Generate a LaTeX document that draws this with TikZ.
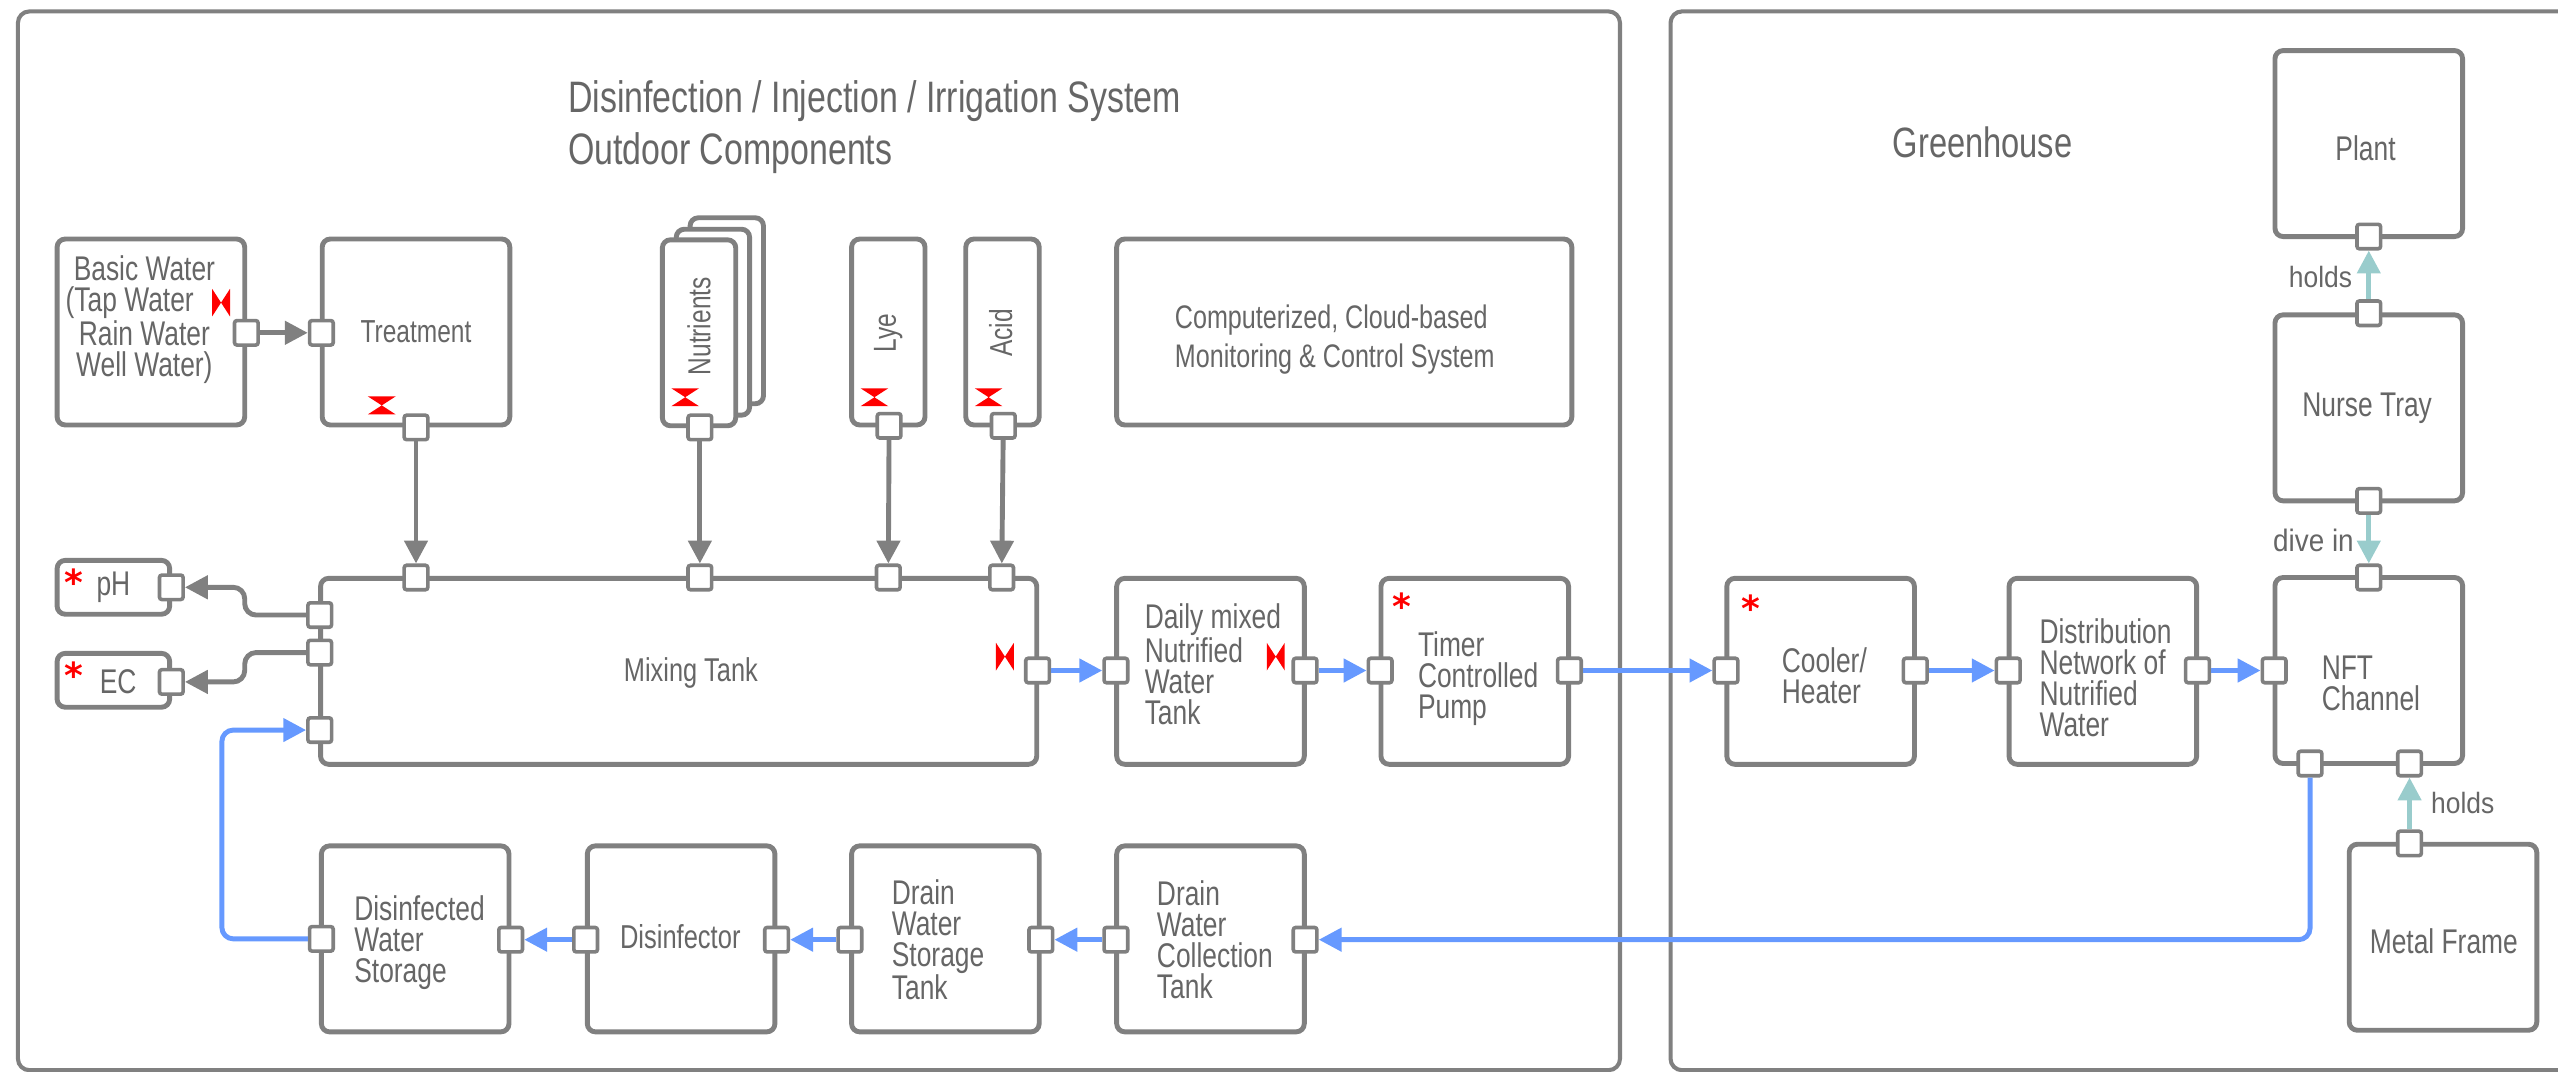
\documentclass[tikz,border=0pt]{standalone}
\usepackage{fontspec}
\setmainfont[FakeStretch=0.77]{Liberation Sans}
\newfontfamily\notefont[FakeStretch=0.9]{Liberation Sans}
\newfontfamily\starfont{DejaVu Sans}
\usetikzlibrary{arrows.meta}
\definecolor{linegray}{HTML}{808080}
\definecolor{textgray}{HTML}{666666}
\definecolor{flowblue}{HTML}{6699FF}
\definecolor{holdteal}{HTML}{99CCCC}
\tikzstyle{frame}=[draw=linegray,line width=2.5pt,rounded corners=7pt]
\tikzstyle{box}=[fill=white,draw=linegray,line width=3pt,rounded corners=5pt,inner sep=0pt,
	minimum width=115pt,minimum height=114pt,text=textgray,align=center,
	font=\fontsize{21}{19}\selectfont]
\tikzstyle{port}=[fill=white,draw=linegray,line width=2.2pt,rounded corners=1.5pt,inner sep=0pt,
	minimum width=14.5pt,minimum height=15pt]
\tikzstyle{lbl}=[text=textgray,inner sep=0pt,align=left,font=\fontsize{21}{19}\selectfont]
\tikzstyle{title}=[text=textgray,inner sep=0pt,align=left,font=\fontsize{27}{31.5}\selectfont]
\tikzstyle{note}=[text=textgray,inner sep=0pt,font=\notefont\fontsize{18}{18}\selectfont]
\tikzstyle{star}=[text=red,inner sep=0pt,anchor=base,font=\starfont\bfseries\fontsize{22}{22}\selectfont]
\tikzstyle{pipe}=[line width=3pt,rounded corners=7pt]
\tikzstyle{gray flow}=[pipe,draw=linegray,-{Triangle[length=14pt,width=14pt]}]
\tikzstyle{blue flow}=[pipe,draw=flowblue,-{Triangle[length=14pt,width=14pt]}]
\tikzstyle{teal flow}=[pipe,draw=holdteal,-{Triangle[length=14pt,width=14pt]}]
\begin{document}
\begin{tikzpicture}[x=1pt,y=-1pt]
\useasboundingbox (0,0) rectangle (1568,656.5);
% frames
\draw[frame] (11,7) rectangle (993,656);
\draw[frame] (1024,7) rectangle (1590,656);
\node[title,anchor=west] (outdoor) at (348,78) {Disinfection / Injection / Irrigation System\\Outdoor Components};
\node[title,anchor=west,font=\fontsize{26}{31.5}\selectfont] (greenhouse) at (1160,87) {Greenhouse};
% outdoor boxes
\node[box] (basic) at (92.5,203.5) {};
\node[box] (treatment) at (255,203.5) {};
\node[box,minimum width=45pt,minimum height=114pt] (nutrientsc) at (445.5,190.5) {};
\node[box,minimum width=45pt,minimum height=114pt] (nutrientsb) at (437,197.5) {};
\node[box,minimum width=45pt,minimum height=114pt] (nutrients) at (428.5,204) {};
\node[box,minimum width=45pt,minimum height=114pt] (lye) at (544.5,203.5) {};
\node[box,minimum width=45pt,minimum height=114pt] (acid) at (614.5,203.5) {};
\node[box,minimum width=279pt,minimum height=114pt] (monitoring) at (824,203.5) {};
\node[box,minimum width=69pt,minimum height=33pt] (ph) at (69.5,360) {};
\node[box,minimum width=69pt,minimum height=33pt] (ec) at (69.5,417) {};
\node[box,minimum width=439pt] (mixing) at (416,411.5) {};
\node[box] (daily) at (742,411.5) {};
\node[box] (timer) at (904,411.5) {};
\node[box] (disinfected) at (254.5,575.5) {};
\node[box] (disinfector) at (417.5,575.5) {};
\node[box] (storage) at (579.5,575.5) {};
\node[box] (collection) at (742,575.5) {};
% greenhouse boxes
\node[box] (cooler) at (1116,411.5) {};
\node[box] (network) at (1289,411.5) {};
\node[box] (channel) at (1452,411) {};
\node[box] (tray) at (1452,250) {};
\node[box] (plant) at (1452,88) {};
\node[box] (metal) at (1497.5,574.5) {};
% texts
\node[lbl,align=center] (basictext) at (88.5,196) {Basic Water\\(Tap Water\hspace{18pt}\null\\Rain Water\\Well Water)};
\node[lbl,font=\fontsize{19.5}{19}\selectfont] (treatmenttext) at (255,203.5) {Treatment};
\node[lbl,rotate=90,font=\fontsize{19.5}{19}\selectfont] (nutrientstext) at (428.5,200) {Nutrients};
\node[lbl,rotate=90,font=\fontsize{19.5}{19}\selectfont] (lyetext) at (544.5,204) {Lye};
\node[lbl,rotate=90,font=\fontsize{19.5}{19}\selectfont] (acidtext) at (613.5,204) {Acid};
\node[lbl,anchor=west,font=\fontsize{20}{24}\selectfont] (monitoringtext) at (720,208) {Computerized, Cloud-based\\Monitoring \& Control System};
\node[lbl,anchor=west] (phtext) at (59,360) {pH};
\node[lbl,anchor=west] (ectext) at (61,418) {EC};
\node[lbl,font=\fontsize{20.2}{19}\selectfont] (mixingtext) at (423.5,412.5) {Mixing Tank};
\node[lbl,anchor=west] (dailytext) at (701.5,407) {Daily mixed\\Nutrified\\Water\\Tank};
\node[lbl,anchor=west] (timertext) at (869,416) {Timer\\Controlled\\Pump};
\node[lbl,anchor=west] (disinfectedtext) at (217,578) {Disinfected\\Water\\Storage};
\node[lbl,font=\fontsize{20.3}{19}\selectfont] (disinfectortext) at (417,574) {Disinfector};
\node[lbl,anchor=west] (storagetext) at (546.5,576) {Drain\\Water\\Storage\\Tank};
\node[lbl,anchor=west] (collectiontext) at (709,576) {Drain\\Water\\Collection\\Tank};
\node[lbl,anchor=west] (coolertext) at (1092,414) {Cooler/\\Heater};
\node[lbl,anchor=west] (networktext) at (1250,415.5) {Distribution\\Network of\\Nutrified\\Water};
\node[lbl,anchor=west] (channeltext) at (1423,419) {NFT\\Channel};
\node[lbl] (traytext) at (1451,250) {Nurse Tray};
\node[lbl] (planttext) at (1450,91) {Plant};
\node[lbl] (metaltext) at (1498,577) {Metal Frame};
% ports
\node[port] (basicout) at (151,204) {};
\node[port] (treatmentin) at (197,204) {};
\node[port] (treatmentout) at (255,262) {};
\node[port] (nutrientsout) at (429,262) {};
\node[port] (lyeout) at (545,261) {};
\node[port] (acidout) at (615,261) {};
\node[port] (phin) at (105,360) {};
\node[port] (ecin) at (105,418) {};
\node[port] (mixa) at (255,354) {};
\node[port] (mixb) at (429,354) {};
\node[port] (mixc) at (544.5,354) {};
\node[port] (mixd) at (614,354) {};
\node[port] (mixph) at (196,377) {};
\node[port] (mixec) at (196,400) {};
\node[port] (mixback) at (196,447.5) {};
\node[port] (mixout) at (636,411) {};
\node[port] (dailyin) at (684,411) {};
\node[port] (dailyout) at (800,411) {};
\node[port] (timerin) at (846,411) {};
\node[port] (timerout) at (962,411) {};
\node[port] (coolerin) at (1058,411) {};
\node[port] (coolerout) at (1174,411) {};
\node[port] (networkin) at (1231,411) {};
\node[port] (networkout) at (1347,411) {};
\node[port] (channelin) at (1394,411) {};
\node[port] (channeltop) at (1452,354) {};
\node[port] (channeldrain) at (1416,468) {};
\node[port] (channelframe) at (1477,468) {};
\node[port] (metalout) at (1477,517) {};
\node[port] (trayout) at (1452,307) {};
\node[port] (traytop) at (1452,192) {};
\node[port] (plantin) at (1452,145) {};
\node[port] (collectionin) at (800,576) {};
\node[port] (collectionout) at (684,576) {};
\node[port] (storagein) at (638,576) {};
\node[port] (storageout) at (521,576) {};
\node[port] (disinfectorin) at (476,576) {};
\node[port] (disinfectorout) at (359,576) {};
\node[port] (disinfectedin) at (313,576) {};
\node[port] (disinfectedout) at (197,575.5) {};
% connectors
\draw[gray flow] (basicout) -- (treatmentin);
\draw[gray flow] (treatmentout) -- (mixa);
\draw[gray flow] (nutrientsout) -- (mixb);
\draw[gray flow] (lyeout) -- (mixc);
\draw[gray flow] (acidout) -- (mixd);
\draw[gray flow] (mixph) -- ++(-46,0) |- (phin);
\draw[gray flow] (mixec) -- ++(-46,0) |- (ecin);
\draw[blue flow] (mixout) -- (dailyin);
\draw[blue flow] (dailyout) -- (timerin);
\draw[blue flow] (timerout) -- (coolerin);
\draw[blue flow] (coolerout) -- (networkin);
\draw[blue flow] (networkout) -- (channelin);
\draw[blue flow] (channeldrain) |- (collectionin);
\draw[blue flow] (collectionout) -- (storagein);
\draw[blue flow] (storageout) -- (disinfectorin);
\draw[blue flow] (disinfectorout) -- (disinfectedin);
\draw[blue flow] (disinfectedout) -- ++(-61,0) |- (mixback);
\draw[teal flow] (traytop) -- (plantin);
\draw[teal flow] (trayout) -- (channeltop);
\draw[teal flow] (metalout) -- (channelframe);
\node[note,anchor=east] (holdstray) at (1442,170) {holds};
\node[note,anchor=east,font=\notefont\fontsize{19}{19}\selectfont] (divein) at (1443,331) {dive in};
\node[note,anchor=west] (holdsmetal) at (1490,492) {holds};
% valves
\foreach \x/\y in {135.5/185.5,616/402.5,782/402.5}
	\fill[red] (\x-5.5,\y-8.5) -- (\x+5.5,\y+8.5) -- (\x+5.5,\y-8.5) -- (\x-5.5,\y+8.5) -- cycle;
\foreach \x/\y in {234/248.5,420/243.5,536/243.5,606/243.5}
	\fill[red] (\x-8.5,\y-5.5) -- (\x+8.5,\y-5.5) -- (\x-8.5,\y+5.5) -- (\x+8.5,\y+5.5) -- cycle;
% sensors
\node[star] (phstar) at (45.3,365) {*};
\node[star] (ecstar) at (45.3,422) {*};
\node[star] (timerstar) at (859.3,379.5) {*};
\node[star] (coolerstar) at (1073,381) {*};
\end{tikzpicture}
\end{document}
